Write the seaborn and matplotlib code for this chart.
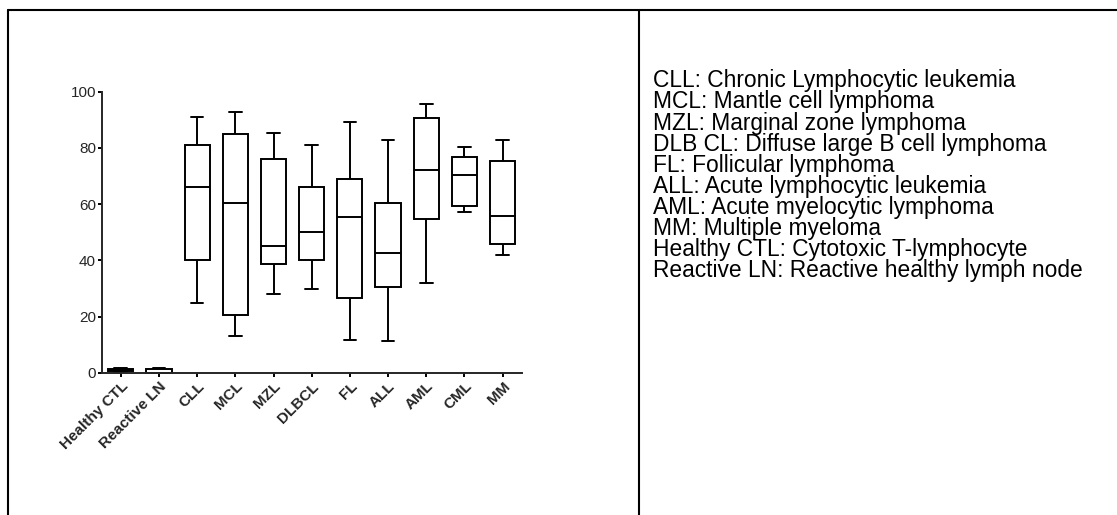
import numpy as np
import pandas as pd
import matplotlib
matplotlib.use("Agg")
import matplotlib.pyplot as plt
from matplotlib.lines import Line2D
import seaborn as sns

# === DATA (five-number summaries) ===
groups = ["Healthy CTL", "Reactive LN", "CLL", "MCL", "MZL", "DLBCL",
          "FL", "ALL", "AML", "CML", "MM"]
whisker_low = [0.3, 0.1, 25.0, 13.0, 28.2, 30.0, 11.9, 11.2, 31.9, 57.2, 42.0]
q1 = [0.6, 0.1, 40.0, 20.6, 38.9, 40.1, 26.8, 30.7, 54.6, 59.5, 45.7]
median = [1.0, 0.1, 66.0, 60.3, 45.0, 50.3, 55.3, 42.5, 72.1, 70.3, 55.8]
q3 = [1.3, 1.5, 80.9, 84.8, 75.9, 66.0, 69.0, 60.4, 90.5, 76.7, 75.3]
whisker_high = [1.9, 1.9, 91.0, 92.9, 85.4, 80.9, 89.2, 82.8, 95.5, 80.4, 82.8]

y_ticks = [0, 20, 40, 60, 80, 100]

legend_lines = [
    "CLL: Chronic Lymphocytic leukemia",
    "MCL: Mantle cell lymphoma",
    "MZL: Marginal zone lymphoma",
    "DLB CL: Diffuse large B cell lymphoma",
    "FL: Follicular lymphoma",
    "ALL: Acute lymphocytic leukemia",
    "AML: Acute myelocytic lymphoma",
    "MM: Multiple myeloma",
    "Healthy CTL: Cytotoxic T-lymphocyte",
    "Reactive LN: Reactive healthy lymph node",
]

# five points per group -> quartiles land exactly on the read values
vals = np.column_stack([whisker_low, q1, median, q3, whisker_high])
df = pd.DataFrame({
    "group": np.repeat(groups, vals.shape[1]),
    "value": vals.ravel(),
})

# === STYLE ===
sns.set_style("ticks")
plt.rcParams["font.family"] = ["Liberation Sans", "DejaVu Sans"]

W, H = 1117, 515
fig = plt.figure(figsize=(W / 100, H / 100), dpi=100)
ax = fig.add_axes([101.7 / W, 1 - 373 / H, (521.7 - 101.7) / W, (373 - 91.7) / H])

sns.boxplot(data=df, x="group", y="value", order=groups, ax=ax,
            whis=(0, 100), width=0.66, color="white", linecolor="black",
            linewidth=1.4, saturation=1, fliersize=0)

for art in ax.get_children():
    if hasattr(art, "set_clip_on"):
        art.set_clip_on(False)

ax.set_xlim(-0.5, len(groups) - 0.5)
ax.set_ylim(0, 100)
ax.set_yticks(y_ticks)
ax.set_xlabel("")
ax.set_ylabel("")
sns.despine(ax=ax)
for s in ["left", "bottom"]:
    ax.spines[s].set_linewidth(1.4)
ax.tick_params(axis="both", direction="out", length=2.6, width=1.4, color="black")
ax.tick_params(axis="y", labelsize=11, pad=1.5)
ax.tick_params(axis="x", labelsize=11, pad=2)
for lab in ax.get_xticklabels():
    lab.set_rotation(45)
    lab.set_ha("right")
    lab.set_va("top")
    lab.set_rotation_mode("anchor")
    lab.set_fontweight("bold")

# right-hand text block
for i, line in enumerate(legend_lines):
    fig.text(653 / W, 1 - (87.3 + i * 21.1) / H, line, fontsize=16.4,
             ha="left", va="baseline", color="black")

# table-like frame
lw = 1.5
fig.add_artist(Line2D([7.5 / W, 1], [1 - 10 / H, 1 - 10 / H], color="black",
                      linewidth=lw, transform=fig.transFigure))
fig.add_artist(Line2D([7.5 / W, 7.5 / W], [0, 1 - 10 / H], color="black",
                      linewidth=lw, transform=fig.transFigure))
fig.add_artist(Line2D([639 / W, 639 / W], [0, 1 - 10 / H], color="black",
                      linewidth=lw, transform=fig.transFigure))

fig.savefig("out.png", dpi=100)
